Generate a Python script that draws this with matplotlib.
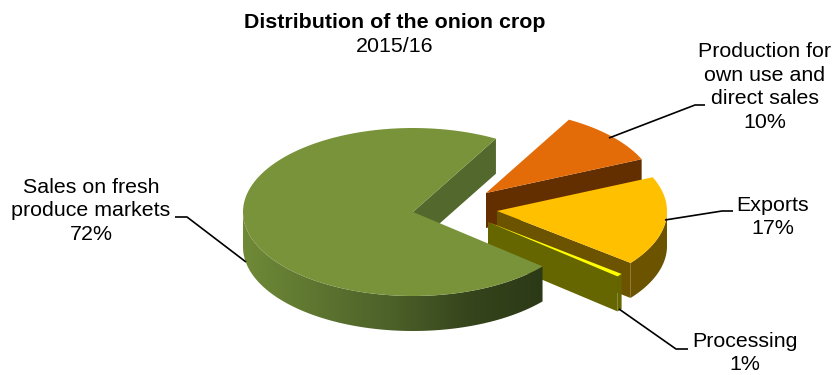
import matplotlib
matplotlib.use("Agg")
import matplotlib.pyplot as plt
import numpy as np
from matplotlib.colors import LinearSegmentedColormap
from matplotlib.patches import Polygon

plt.rcParams["font.family"] = ["Liberation Sans", "DejaVu Sans"]

# counter-clockwise from the start angle
labels = ["Sales on fresh\nproduce markets\n72%", "Processing\n1%", "Exports\n17%",
          "Production for\nown use and\ndirect sales\n10%"]
# slice widths, the labels are rounded
shares = [71.9, 0.6, 17.2, 10.3]

start_angle = 60.8
rx, ry, depth = 170, 84, 35
center = (413, 212)

# where each slice's apex ends up, pulled out of the pie
apex_x = [413, 488, 497, 486]
apex_y = [212, 222, 211, 193]

top_colors = ["#789339", "#ffff00", "#ffc000", "#e36c09"]
edge_colors = ["#53682c", "#666600", "#6b5300", "#632e00"]
wall_colors = [None, "#666600", "#6b5300", "#632e00"]
green_wall = LinearSegmentedColormap.from_list(
    "green_wall", ["#6f8a37", "#5d7530", "#4c6029", "#36451c", "#2c3917"])

label_x = [91, 745, 773, 765]
label_y = [211, 353, 217, 87]
leaders = [
    [(246, 262), (187, 217), (175, 217)],
    [(619, 309), (676, 349), (688, 349)],
    [(665, 220), (722, 211), (733, 211)],
    [(609, 138), (695, 105), (705, 105)],
]


def arc(cx, cy, a1, a2, n=120):
    t = np.radians(np.linspace(a1, a2, n))
    return np.column_stack([cx + rx * np.cos(t), cy - ry * np.sin(t)])


fig = plt.figure(figsize=(8.33, 3.75), dpi=100)
ax = fig.add_axes([0, 0, 1, 1])

# back to front, so the big slice goes last
bounds = start_angle + np.cumsum([0] + shares) * 3.6
for i in [3, 2, 1, 0]:
    a1, a2 = bounds[i], bounds[i + 1]
    cx, cy = apex_x[i], apex_y[i]
    z = 10 + (3 - i) * 5

    # flat radial walls that face the viewer
    for ang, show in [(a1, np.cos(np.radians(a1)) > 0), (a2, np.cos(np.radians(a2)) < 0)]:
        if show:
            p = arc(cx, cy, ang, ang, 1)[0]
            ax.add_patch(Polygon([(cx, cy), p, p + (0, depth), (cx, cy + depth)],
                                 fc=edge_colors[i], ec="none", zorder=z))

    # curved wall, only the lower half of the ellipse shows
    v1, v2 = max(a1, 180), min(a2, 360)
    if v1 < v2:
        rim = arc(cx, cy, v1, v2)
        wall = np.vstack([rim, (rim + (0, depth))[::-1]])
        if wall_colors[i] is None:
            poly = Polygon(wall, fc="none", ec="none", zorder=z + 1)
            ax.add_patch(poly)
            grad = np.linspace(0, 1, 256).reshape(1, -1)
            im = ax.imshow(grad, cmap=green_wall, aspect="auto", zorder=z + 1,
                           extent=[rim[:, 0].min(), rim[:, 0].max(),
                                   wall[:, 1].max(), wall[:, 1].min()])
            im.set_clip_path(poly)
        else:
            ax.add_patch(Polygon(wall, fc=wall_colors[i], ec="none", zorder=z + 1))

    top = np.vstack([[(cx, cy)], arc(cx, cy, a1, a2)])
    ax.add_patch(Polygon(top, fc=top_colors[i], ec="none", zorder=z + 2))

for pts in leaders:
    xs, ys = zip(*pts)
    ax.plot(xs, ys, color="black", lw=1.2, zorder=40, solid_capstyle="butt")

for txt, x, y in zip(labels, label_x, label_y):
    ax.text(x, y, txt, ha="center", va="center", fontsize=15.4, linespacing=1.33,
            color="black", zorder=50)

ax.text(395, 23, "Distribution of the onion crop", ha="center", va="center",
        fontsize=15.4, fontweight="bold")
ax.text(395, 47, "2015/16", ha="center", va="center", fontsize=15.4)

ax.set_xlim(0, 833)
ax.set_ylim(375, 0)
ax.axis("off")
fig.savefig("out.png", dpi=100)
